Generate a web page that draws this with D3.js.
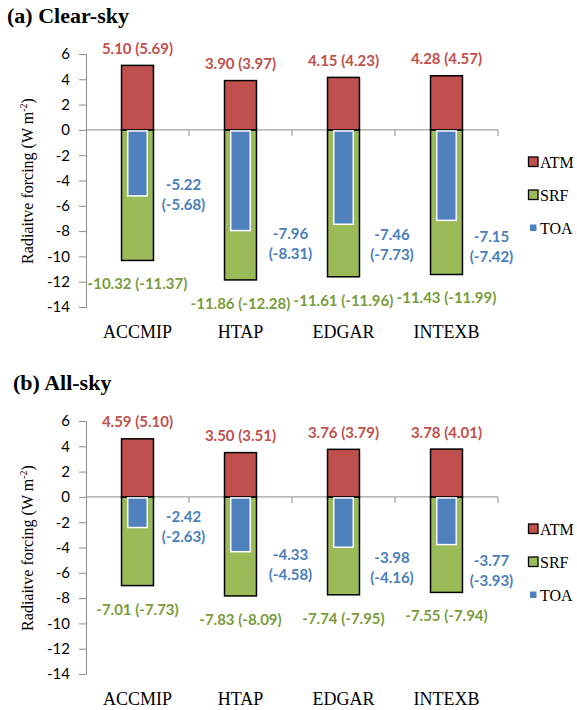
<!DOCTYPE html>
<html><head><meta charset="utf-8">
<script src="https://cdn.jsdelivr.net/npm/d3@7"></script>
<style>body{margin:0;background:#fff}svg{display:block}</style>
</head><body>
<svg id="c" width="577" height="710"></svg>
<script>
const categories = ["ACCMIP", "HTAP", "EDGAR", "INTEXB"];
const seriesNames = ["ATM", "SRF", "TOA"];
// (a) Clear-sky
const clearATM = [5.10, 3.90, 4.15, 4.28];
const clearATMAlt = [5.69, 3.97, 4.23, 4.57];
const clearSRF = [-10.32, -11.86, -11.61, -11.43];
const clearSRFAlt = [-11.37, -12.28, -11.96, -11.99];
const clearTOA = [-5.22, -7.96, -7.46, -7.15];
const clearTOAAlt = [-5.68, -8.31, -7.73, -7.42];
// (b) All-sky
const allATM = [4.59, 3.50, 3.76, 3.78];
const allATMAlt = [5.10, 3.51, 3.79, 4.01];
const allSRF = [-7.01, -7.83, -7.74, -7.55];
const allSRFAlt = [-7.73, -8.09, -7.95, -7.94];
const allTOA = [-2.42, -4.33, -3.98, -3.77];
const allTOAAlt = [-2.63, -4.58, -4.16, -3.93];
const yTicks = [-14, -12, -10, -8, -6, -4, -2, 0, 2, 4, 6];
const panelTitles = ["(a) Clear-sky", "(b) All-sky"];

// layout (not data)
const toaLabelNudge = [[46, -1.5], [50, 12], [48.5, 20], [45, 25.5]];
const colors = {ATM: "#c0504d", SRF: "#9bbb59", TOA: "#4f81bd"};
const textColors = {ATM: "#c0504d", SRF: "#7a9c3c", TOA: "#4a7ebb"};

const svg = d3.select("#c");
const fmt = v => v.toFixed(2);

const panels = [
  {title: panelTitles[0], titleX: 7, atm: clearATM, atmAlt: clearATMAlt, srf: clearSRF, srfAlt: clearSRFAlt, toa: clearTOA, toaAlt: clearTOAAlt, dy: 0},
  {title: panelTitles[1], titleX: 13, atm: allATM, atmAlt: allATMAlt, srf: allSRF, srfAlt: allSRFAlt, toa: allTOA, toaAlt: allTOAAlt, dy: 367}
];

panels.forEach(p => {
  const g = svg.append("g").attr("transform", `translate(0,${p.dy})`);
  const x = d3.scaleBand().domain(categories).range([86, 498]).paddingInner(0).paddingOuter(0);
  const y = d3.scaleLinear().domain([-14, 6]).range([307, 54]);
  const bw = x.bandwidth() * 0.31;
  const iw = x.bandwidth() * 0.19;
  const cx = c => x(c) + x.bandwidth() / 2;

  g.append("text").attr("x", p.titleX).attr("y", 23)
    .style("font-family", "'Liberation Serif','Times New Roman',serif")
    .style("font-weight", "bold").style("font-size", "22px").text(p.title);

  // y axis
  const ya = g.append("g").attr("transform", "translate(86,0)")
    .call(d3.axisLeft(y).tickValues(yTicks).tickFormat(d => String(d)).tickSize(7).tickPadding(9));
  ya.select(".domain").attr("stroke", "#8c8c8c");
  ya.selectAll(".tick line").attr("stroke", "#8c8c8c");
  ya.selectAll(".tick text").style("font-family", "Lato, sans-serif").style("font-size", "15px").attr("fill", "#000");

  // zero line with category ticks
  const z = y(0);
  g.append("line").attr("x1", x.range()[0]).attr("x2", x.range()[1]).attr("y1", z).attr("y2", z)
    .attr("stroke", "#8c8c8c").attr("stroke-width", 1);
  g.selectAll(".xt").data(categories).enter().append("line")
    .attr("x1", c => x(c) + x.step()).attr("x2", c => x(c) + x.step())
    .attr("y1", z).attr("y2", z + 6).attr("stroke", "#8c8c8c");

  // SRF bars
  g.selectAll(".srf").data(categories).enter().append("rect")
    .attr("x", c => cx(c) - bw / 2).attr("width", bw)
    .attr("y", z).attr("height", (c, i) => y(p.srf[i]) - z)
    .attr("fill", colors.SRF).attr("stroke", "#000").attr("stroke-width", 1.5);
  // ATM bars
  g.selectAll(".atm").data(categories).enter().append("rect")
    .attr("x", c => cx(c) - bw / 2).attr("width", bw)
    .attr("y", (c, i) => y(p.atm[i])).attr("height", (c, i) => z - y(p.atm[i]))
    .attr("fill", colors.ATM).attr("stroke", "#000").attr("stroke-width", 1.5);
  // TOA bars
  g.selectAll(".toa").data(categories).enter().append("rect")
    .attr("x", c => cx(c) - iw / 2).attr("width", iw)
    .attr("y", z + 1).attr("height", (c, i) => y(p.toa[i]) - z - 1)
    .attr("fill", colors.TOA).attr("stroke", "#fff").attr("stroke-width", 1.5);

  const lblFont = sel => sel.style("font-family", "Lato, sans-serif").style("font-weight", "bold").style("font-size", "15px").attr("text-anchor", "middle").attr("dominant-baseline", "central");

  g.selectAll(".la").data(categories).enter().append("text")
    .attr("x", cx).attr("y", (c, i) => y(p.atm[i]) - 17.5)
    .attr("fill", textColors.ATM).call(lblFont)
    .text((c, i) => `${fmt(p.atm[i])} (${fmt(p.atmAlt[i])})`);
  g.selectAll(".ls").data(categories).enter().append("text")
    .attr("x", cx).attr("y", (c, i) => y(p.srf[i]) + 23)
    .attr("fill", textColors.SRF).call(lblFont)
    .text((c, i) => `${fmt(p.srf[i])} (${fmt(p.srfAlt[i])})`);
  const lt = g.selectAll(".lt").data(categories).enter().append("text")
    .attr("fill", textColors.TOA).call(lblFont);
  lt.append("tspan").attr("x", (c, i) => cx(c) + toaLabelNudge[i][0]).attr("y", (c, i) => y(p.toa[i]) + toaLabelNudge[i][1] - 10)
    .text((c, i) => fmt(p.toa[i]));
  lt.append("tspan").attr("x", (c, i) => cx(c) + toaLabelNudge[i][0]).attr("y", (c, i) => y(p.toa[i]) + toaLabelNudge[i][1] + 10)
    .text((c, i) => `(${fmt(p.toaAlt[i])})`);

  // category labels
  g.selectAll(".cl").data(categories).enter().append("text")
    .attr("x", cx).attr("y", 338).attr("text-anchor", "middle")
    .style("font-family", "'Liberation Serif','Times New Roman',serif").style("font-size", "18px")
    .text(c => c);

  // y title
  const yt = g.append("text").attr("transform", "translate(33,181) rotate(-90)").attr("text-anchor", "middle")
    .style("font-family", "'Liberation Serif','Times New Roman',serif").style("font-size", "16px");
  yt.append("tspan").text("Radiaitve forcing (W m");
  yt.append("tspan").attr("dy", -6).style("font-size", "10px").text("-2");
  yt.append("tspan").attr("dy", 6).text(")");

  // legend
  const lg = g.append("g");
  seriesNames.forEach((s, i) => {
    const ly = 162 + i * 33;
    if (s === "TOA") {
      lg.append("rect").attr("x", 530).attr("y", ly - 3.5).attr("width", 6.5).attr("height", 6.5).attr("fill", colors[s]);
    } else {
      lg.append("rect").attr("x", 528.5).attr("y", ly - 5).attr("width", 9.5).attr("height", 9.5).attr("fill", colors[s]).attr("stroke", "#000").attr("stroke-width", 1.3);
    }
    lg.append("text").attr("x", 540).attr("y", ly + 6)
      .style("font-family", "'Liberation Serif','Times New Roman',serif").style("font-size", "16px").text(s);
  });
});
</script>
</body></html>
